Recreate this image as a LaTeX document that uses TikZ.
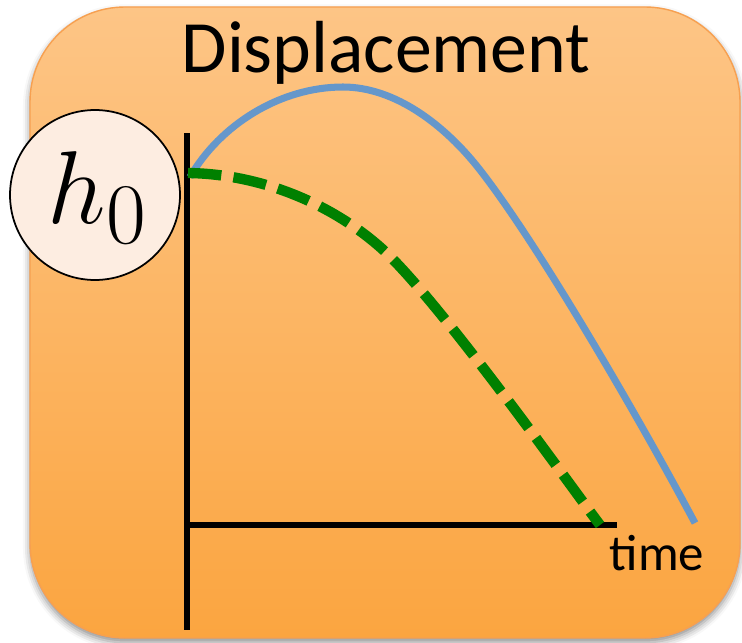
\documentclass[tikz,border=0pt]{standalone}
\usepackage[no-math]{fontspec}
\setmainfont{Carlito}
\usetikzlibrary{shadows.blur}

\definecolor{paneltop}{RGB}{253,197,134}
\definecolor{panelbottom}{RGB}{251,165,64}
\definecolor{panelline}{RGB}{247,160,80}
\definecolor{bubblefill}{RGB}{253,237,225}
\definecolor{realblue}{RGB}{101,151,203}
\definecolor{modelgreen}{RGB}{0,128,0}

\begin{document}
\begin{tikzpicture}[x=0.02cm, y=-0.02cm, line join=round]
        \useasboundingbox (0,0) rectangle (742,642);

        % PANO
        \shade[top color=paneltop, bottom color=panelbottom, draw=panelline, line width=0.8pt, rounded corners=1.9cm,
               blur shadow={shadow xshift=0pt, shadow yshift=-2.5pt, shadow blur radius=4pt, shadow opacity=45}]
            (30,7) rectangle (740,638);

        \node[font=\fontsize{42}{48}\selectfont, anchor=base] (baslik) at (386,72) {Displacement};

        % EKSENLER
        \coordinate (yust) at (187,133);
        \coordinate (yalt) at (187,630);
        \coordinate (orijin) at (187,525);
        \coordinate (xuc) at (617,525);
        \draw[line width=3.4pt] (yust) -- (yalt);
        \draw[line width=3.4pt] (orijin) -- (xuc);
        \node[font=\fontsize{29}{34}\selectfont, anchor=base] (zaman) at (657,570) {time};

        % EGRILER
        \coordinate (mavibas) at (190,177);
        \coordinate (tepe) at (343,87);
        \coordinate (yesilbas) at (188,173);
        \draw[realblue, line width=4pt] (mavibas) .. controls (220,125) and (280,87) .. (tepe)
            .. controls (395,87) and (445,125) .. (480,170)
            .. controls (540,247) and (640,420) .. (695,523);
        \draw[modelgreen, line width=5.9pt, dash pattern=on 19pt off 7pt] (yesilbas) .. controls (260,174) and (330,203) .. (380,247)
            .. controls (435,295) and (572,488) .. (600,525);

        % BASLANGIC
        \node[circle, draw, line width=1pt, fill=bubblefill, minimum size=3.4cm, inner sep=0pt] (hsifir) at (95,195) {};
        \node (hetiket) at (98,198) {\scalebox{2.37}{\Huge $h_0$}};
    \end{tikzpicture}
\end{document}
